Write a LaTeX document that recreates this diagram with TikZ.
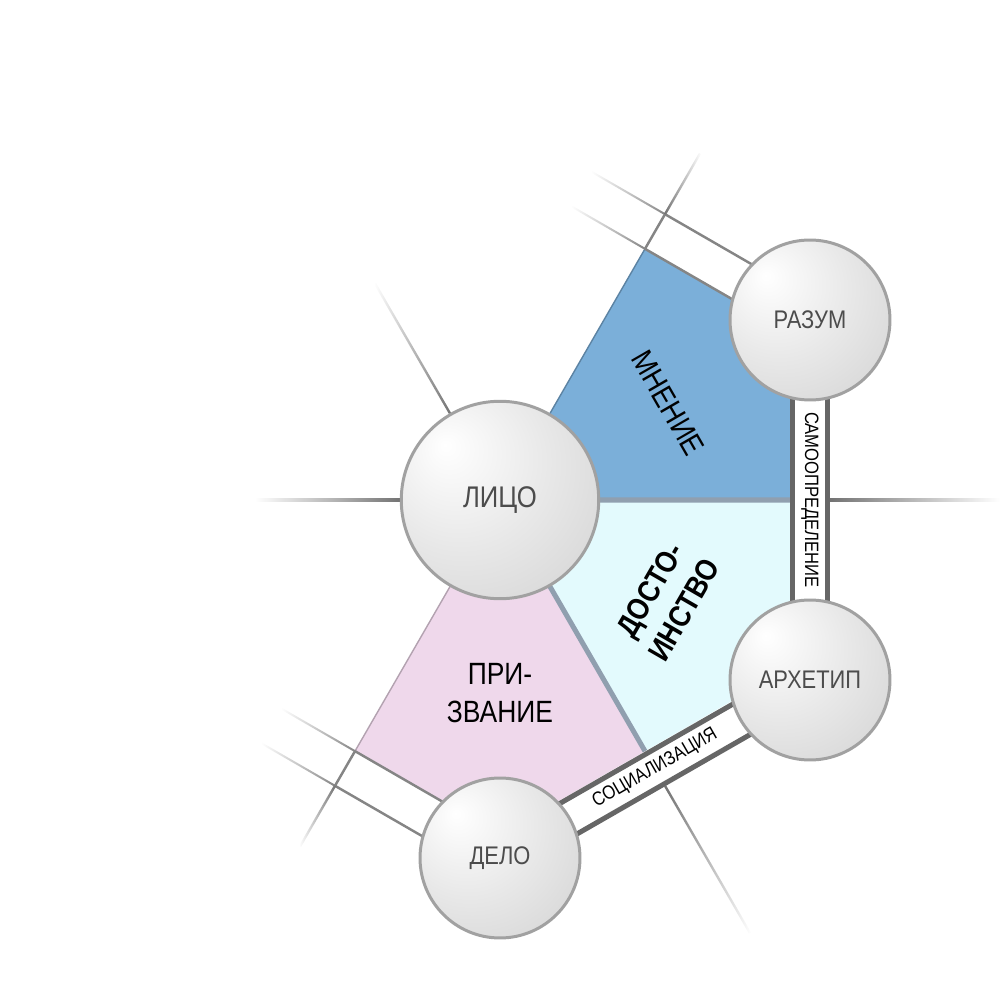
\documentclass[tikz,border=0pt]{standalone}
\usepackage{fontspec}
\setmainfont{Liberation Sans}[FakeStretch=0.86]
\usetikzlibrary{calc, backgrounds}
\definecolor{mnenie}{HTML}{7BAFD9}
\definecolor{dostoinstvo}{HTML}{E3FAFD}
\definecolor{prizvanie}{HTML}{EFD8EB}
\definecolor{seam}{HTML}{909FAF}
\definecolor{bandgray}{HTML}{666666}
\pgfdeclareradialshading{sphere}{\pgfpoint{-14bp}{14bp}}{color(0bp)=(white); color(22bp)=(black!9); color(48bp)=(black!19); color(72bp)=(black!27)}

\begin{document}
\begin{tikzpicture}[x=0.02cm,y=0.02cm]
			\tikzset{ball/.style={circle,draw=black!37,line width=1.7pt,shading=sphere,minimum size=#1,inner sep=0pt,text=black!70,font=\fontsize{14.5}{16}\selectfont},
				ball/.default=3.2cm,
				region/.style={align=center,font=\fontsize{17.5}{21.5}\selectfont},
				bandtext/.style={font=\fontsize{11}{13}\selectfont},
				bandline/.style={draw=bandgray,line width=2.85pt},
				thinline/.style={draw=black!48,line width=1.4pt}}
			\useasboundingbox (-500,-500) rectangle (500,500);
			
			\node [ball=3.95cm, font=\fontsize{17}{20}\selectfont] (lico) at (0,0) {ЛИЦО};
			\node [ball] (razum) at (310,180) {РАЗУМ};
			\node [ball] (arh) at (310,-180) {АРХЕТИП};
			\node [ball] (delo) at (0,-358) {ДЕЛО};
			
			\node [region, rotate=-60] (mnenieText) at (168,97) {МНЕНИЕ};
			\node [region, font=\fontsize{17.5}{22.5}\selectfont\bfseries, rotate=60] (dostText) at (167,-100) {ДОСТО-\\ИНСТВО};
			\node [region] (prizText) at (0,-193) {ПРИ-\\ЗВАНИЕ};
			\node [bandtext, rotate=-90] (samoText) at (310,0) {САМООПРЕДЕЛЕНИЕ};
			\node [bandtext, rotate=30] (socText) at (300:310) {СОЦИАЛИЗАЦИЯ};
			
			\begin{scope}[on background layer]
			% corners of the three sectors
			\coordinate (v60) at (60:290);
			\coordinate (v0) at (0:290);
			\coordinate (v300) at (300:290);
			\coordinate (v240) at (240:290);
			\coordinate (c30) at (30:334.9);
			\coordinate (c330) at (-30:334.9);
			\coordinate (c270) at (-90:334.9);
			\fill [mnenie] (lico.center) -- (v60) -- (c30) -- (v0) -- cycle;
			\fill [dostoinstvo] (lico.center) -- (v0) -- (c330) -- (v300) -- cycle;
			\fill [prizvanie] (lico.center) -- (v300) -- (c270) -- (v240) -- cycle;
			\draw [seam, line width=2.85pt] (v0) -- (lico.center) -- (v300);
			\draw [mnenie!75!black, line width=0.8pt] (lico.center) -- (v60);
			\draw [prizvanie!75!black, line width=0.8pt] (lico.center) -- (v240);
			
			% thin bands
			\foreach \rot/\s in {60/-1,-120/1} {
				\begin{scope}[rotate=\rot]
				\draw [thinline] (290,0) -- (290,200*\s) (330,0) -- (330,200*\s) (290,0) -- (330,0);
				\end{scope}
			}
			% their fading ends
			\foreach \p in {60:290,60:330,240:290,240:330}
			\shade [left color=white, right color=black!48, middle color=black!22] ($(\p)+(60:1)$) -- ($(\p)+(150:85)+(60:1)$) -- ($(\p)+(150:85)+(240:1)$) -- ($(\p)+(240:1)$) -- cycle;
			
			% thick bands between the balls
			\foreach \p/\q/\n in {razum/arh/0,delo/arh/300} {
				\fill [white] ($(\p)+(\n:20)$) -- ($(\q)+(\n:20)$) -- ($(\q)+({\n+180}:20)$) -- ($(\p)+({\n+180}:20)$) -- cycle;
				\draw [bandline] ($(\p)+(\n:17.5)$) -- ($(\q)+(\n:17.5)$) ($(\p)+({\n+180}:17.5)$) -- ($(\q)+({\n+180}:17.5)$);
			}
			
			% rays fading outwards
			\foreach \a/\r/\R/\lc/\rc in {120/100/250/white/black!55,180/100/245/white/black!55,0/330/500/black!55/white,300/330/500/black!55/white,60/330/400/black!55/white,240/330/400/white/black!55}
			\shade [left color=\lc, right color=\rc, middle color=black!27] ($(\a:\r)+({\a+90}:1.2)$) -- ($(\a:\R)+({\a+90}:1.2)$) -- ($(\a:\R)+({\a-90}:1.2)$) -- ($(\a:\r)+({\a-90}:1.2)$) -- cycle;
			\end{scope}
			\end{tikzpicture}
\end{document}
